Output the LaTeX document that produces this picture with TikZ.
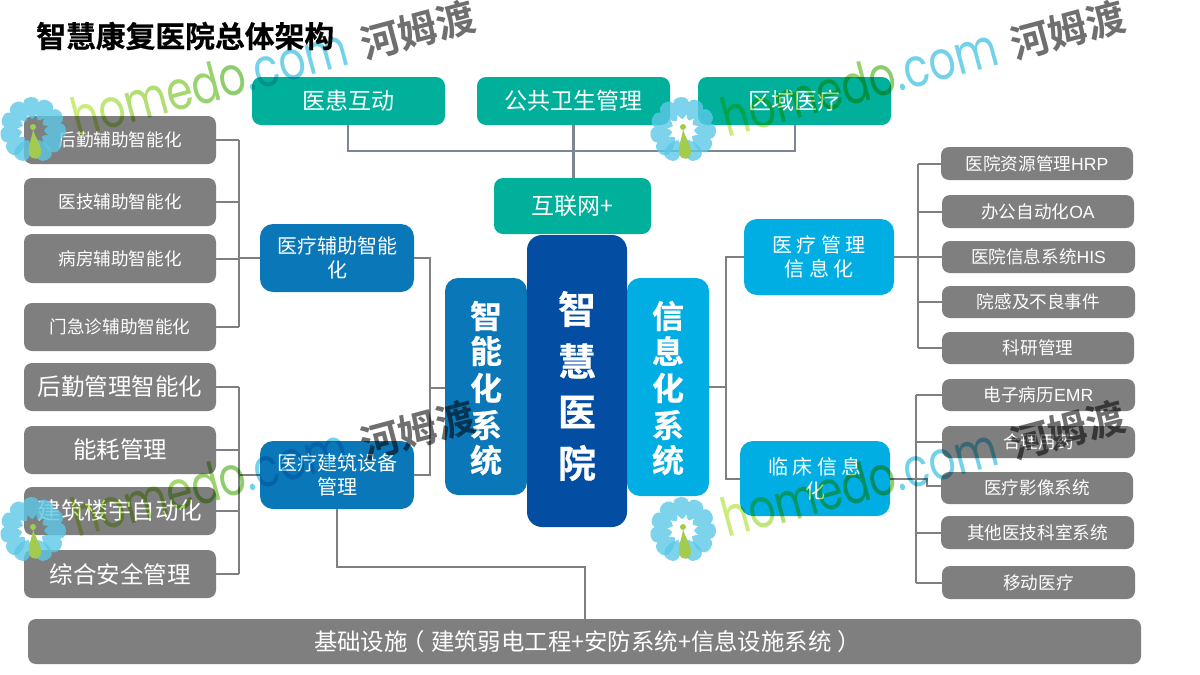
\documentclass[tikz,border=0pt]{standalone}
\usepackage{fontspec}
\setmainfont{Noto Sans CJK SC}[BoldFont={* Bold}]
\newfontfamily\wmfont{Poppins}[FakeStretch=0.78]
\newfontfamily\lat{Liberation Sans}
\newfontfamily\hv{Noto Sans CJK SC}[UprightFont={* Bold},FakeBold=0.5]
\definecolor{grayb}{HTML}{7F7F7F}
\definecolor{teal1}{HTML}{00B09B}
\definecolor{blue1}{HTML}{0A78B8}
\definecolor{sky1}{HTML}{00AEE3}
\definecolor{navy1}{HTML}{034EA2}
\definecolor{linec}{HTML}{7F7F7F}
\definecolor{lineb}{HTML}{7D8793}
\definecolor{wga}{HTML}{CBEC7C}
\definecolor{wgb}{HTML}{BEE678}
\definecolor{wgc}{HTML}{B2DE74}
\definecolor{wgd}{HTML}{A6D870}
\definecolor{wge}{HTML}{9AD270}
\definecolor{wgf}{HTML}{8ECC70}
\definecolor{wmdrop}{HTML}{A3CC4E}
\definecolor{wmblue}{HTML}{72D2EA}
\definecolor{wmpetal}{HTML}{5CC8E6}
\definecolor{wmgray}{HTML}{6F6F6F}
\newcommand{\fs}[1]{\pgfmathsetmacro{\fsl}{#1*1.2}\fontsize{#1}{\fsl}\selectfont}
\tikzset{
  boxbase/.style={rounded corners=9pt,text=white,align=center,inner sep=0pt,minimum width=0pt},
  graybox/.style={boxbase,fill=grayb,rounded corners=8pt},
  tealbox/.style={boxbase,fill=teal1},
  bluebox/.style={boxbase,fill=blue1,rounded corners=13pt},
  skybox/.style={boxbase,fill=sky1,rounded corners=13pt},
  navybox/.style={boxbase,fill=navy1,rounded corners=15pt},
  conn/.style={draw=linec,line width=2pt},
  connb/.style={draw=lineb,line width=2.4pt},
  petal/.style={fill=wmpetal,fill opacity=0.8},
}
% \bx{name}{style}{x1}{y1}{x2}{y2}{font size}{text}
\newcommand{\bx}[8]{%
  \pgfmathsetmacro{\bw}{#5-#3}\pgfmathsetmacro{\bh}{#6-#4}%
  \node[#2,minimum width=\bw pt,minimum height=\bh pt,font=\fs{#7}] (#1) at ({(#3+#5)/2},{(#4+#6)/2}) {#8};}
\newcommand{\wm}[3]{%
  \begin{scope}[shift={(#1,#2)}]
    \fill[petal] \foreach \a in {0,32,64,96,128,232,264,296,328} {
      [rotate=\a+4] (0,-11) .. controls (-8,-16) and (-13,-33) .. (0,-33) .. controls (13,-33) and (8,-16) .. (0,-11) -- cycle};
    \fill[petal] \foreach \a in {155,205} {
      [rotate=\a] (0,-11) .. controls (-8,-16) and (-13,-33) .. (0,-33) .. controls (13,-33) and (8,-16) .. (0,-11) -- cycle};
    \fill[wmdrop] (0,-3) circle (3);
    \fill[wmdrop] (0,-1) .. controls (2,8) and (11,18) .. (7,26) .. controls (3,32) and (-6,28) .. (-4,18) .. controls (-3,10) and (-1,8) .. (0,-1) -- cycle;
    \begin{scope}[blend mode=multiply]
    \node[rotate=15,anchor=base west,inner sep=0pt,font=\wmfont\fs{54}] (#3a) at (44,8) {\textcolor{wga}{h}\textcolor{wgb}{o}\textcolor{wgc}{m}\textcolor{wgd}{e}\textcolor{wge}{d}\textcolor{wgf}{o}\textcolor{wmblue}{.com}};
    \node[rotate=15,anchor=base west,inner sep=0pt,font=\bfseries\fs{39},text=wmgray] (#3b) at (332,-70) {河姆渡};
    \end{scope}
  \end{scope}}
\begin{document}
\begin{tikzpicture}[x=1pt,y=-1pt]
\useasboundingbox (0,0) rectangle (1200,675);
\fill[white] (0,0) rectangle (1200,675);
\node[anchor=west,inner sep=0pt,font=\hv\fs{29.8}] (title) at (36,36) {智慧康复医院总体架构};
% connector coordinates
\coordinate (lub) at (239,258);
\coordinate (llb) at (239,475);
\coordinate (cl) at (430,388);
\coordinate (cr) at (726,387);
\coordinate (rub) at (918,257);
\coordinate (rlb) at (916,478.5);
\coordinate (basejoin) at (585,567);
% top boxes
\bx{t1}{tealbox}{252}{77}{445}{125}{23}{医患互动}
\bx{t2}{tealbox}{477}{77}{670}{125}{23}{公共卫生管理}
\bx{t3}{tealbox}{698}{77}{891}{125}{23}{区域医疗}
\bx{net}{tealbox}{494}{178}{651}{234}{23}{互联网+}
% left grey
\bx{a1}{graybox}{24}{116}{216}{164}{17.6}{后勤辅助智能化}
\bx{a2}{graybox}{24}{178}{216}{226}{17.6}{医技辅助智能化}
\bx{a3}{graybox}{24}{234}{216}{283}{17.6}{病房辅助智能化}
\bx{a4}{graybox}{24}{303}{216}{351}{17.6}{门急诊辅助智能化}
\bx{b1}{graybox}{24}{363}{216}{411}{23.5}{后勤管理智能化}
\bx{b2}{graybox}{24}{426}{216}{474}{23.5}{能耗管理}
\bx{b3}{graybox}{24}{487}{216}{535}{23.5}{建筑楼宇自动化}
\bx{b4}{graybox}{24}{550}{216}{598}{23.5}{综合安全管理}
% left blue
\bx{m1}{bluebox}{260}{224}{414}{292}{20}{医疗辅助智能\\化}
\bx{m2}{bluebox}{260}{441}{414}{509}{20}{医疗建筑设备\\管理}
% connectors left
\foreach \n in {a1,a2,a3,a4} \draw[conn] (\n.east) -- (\n.east -| lub);
\draw[conn] (a1.east -| lub) -- (a4.east -| lub);
\draw[conn] (m1.west) -- (lub);
\foreach \n in {b1,b2,b3,b4} \draw[conn] (\n.east) -- (\n.east -| llb);
\draw[conn] (b1.east -| llb) -- (b4.east -| llb);
\draw[conn] (m2.west) -- (llb);
\draw[conn] (m1.east) -- (m1.east -| cl) -- (m2.east -| cl) -- (m2.east);
% center
\bx{sl}{bluebox}{445}{278}{527}{495}{32}{}
\bx{sr}{skybox}{627}{278}{709}{496}{32}{}
\bx{cc}{navybox}{527}{235}{627}{527}{38}{}
\draw[conn] (cl) -- (sl.west |- cl);
\draw[conn] (sr.east |- cr) -- (cr);
% right boxes
\bx{r1}{skybox}{744}{219}{894}{295}{20}{医 疗 管 理\\信 息 化}
\bx{r2}{skybox}{740}{441}{890}{516}{20}{临 床 信 息\\化}
\bx{c1}{graybox}{941}{147}{1133}{180}{17.6}{医院资源管理{\lat HRP}}
\bx{c2}{graybox}{942}{195}{1134}{228}{17.6}{办公自动化{\lat OA}}
\bx{c3}{graybox}{942}{241}{1135}{273}{17.6}{医院信息系统{\lat HIS}}
\bx{c4}{graybox}{942}{286}{1135}{318}{17.6}{院感及不良事件}
\bx{c5}{graybox}{942}{332}{1134}{364}{17.6}{科研管理}
\bx{d1}{graybox}{942}{379}{1135}{411}{17.6}{电子病历{\lat EMR}}
\bx{d2}{graybox}{942}{426}{1135}{458}{17.6}{合理用药}
\bx{d3}{graybox}{941}{472}{1133}{504}{17.6}{医疗影像系统}
\bx{d4}{graybox}{941}{516}{1134}{549}{17.6}{其他医技科室系统}
\bx{d5}{graybox}{942}{566}{1135}{599}{17.6}{移动医疗}
\foreach \n in {c1,c2,c3,c4,c5} \draw[conn] (\n.west) -- (\n.west -| rub);
\draw[conn] (c1.west -| rub) -- (c5.west -| rub);
\draw[conn] (r1.east) -- (rub);
\foreach \n in {d1,d2,d4,d5} \draw[conn] (\n.west) -- (\n.west -| rlb);
\draw[conn] (d1.west -| rlb) -- (d5.west -| rlb);
\draw[conn] (r2.east |- rlb) -- (927,478.5) -- (927,486) -- (d3.west |- 0,486);
\draw[conn] (r1.west) -- (r1.west -| cr) -- (cr |- rlb) -- (r2.west |- rlb);
% base
\bx{base}{graybox}{28}{619}{1141}{664}{23.4}{基础设施\kern-6pt（\kern6pt建筑弱电工程+安防系统+信息设施系统\kern6pt）\kern-6pt}
\draw[conn] (m2.south) -- (m2.south |- basejoin) -- (basejoin) -- (basejoin |- base.north);
% top connectors
\draw[connb] (348,0 |- t1.south) -- (348,151) -- (795,151) -- (795,0 |- t3.south);
\draw[connb] (t2.south) -- (t2.south |- net.north);
% vertical labels
\foreach \ch/\yy/\nm in {智/316/sa,能/351/sb,化/388/sc,系/425/sd,统/460/se}
  \node[font=\hv\fs{32},text=white,inner sep=0pt] (\nm) at (486,\yy) {\ch};
\foreach \ch/\yy/\nm in {信/316/ra,息/351/rb,化/388/rc,系/425/rd,统/460/re}
  \node[font=\hv\fs{32},text=white,inner sep=0pt] (\nm) at (668,\yy) {\ch};
\foreach \ch/\yy/\nm in {智/309/ca,慧/361/cb,医/412/cc2,院/463/cd}
  \node[font=\hv\fs{38},text=white,inner sep=0pt] (\nm) at (577,\yy) {\ch};
% watermarks
\wm{33}{130}{wa}
\wm{683}{130}{wb}
\wm{33}{530}{wc}
\wm{683}{530}{wd}
\end{tikzpicture}
\end{document}
